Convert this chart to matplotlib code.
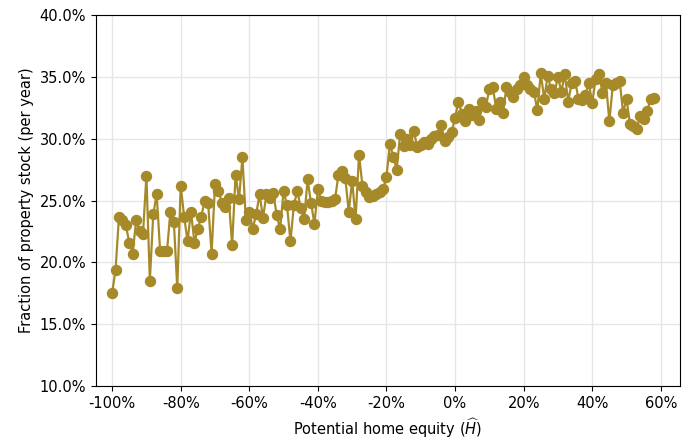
import numpy as np
import matplotlib
matplotlib.use("Agg")
import matplotlib.pyplot as plt
from matplotlib.ticker import FuncFormatter

# potential home equity (in %), one point per percent
equity = list(range(-100, 59))

# fraction of property stock turning over (per year, in %)
fraction = [
    17.5, 19.4, 23.7, 23.4, 23.0, 21.6, 20.7, 23.4, 22.5, 22.3,   # -100 .. -91
    27.0, 18.5, 23.9, 25.5, 20.9, 20.9, 20.9, 24.1, 23.3, 17.9,   # -90 .. -81
    26.2, 23.7, 21.7, 24.1, 21.6, 22.7, 23.7, 25.0, 24.8, 20.7,   # -80 .. -71
    26.3, 25.8, 24.8, 24.5, 25.2, 21.4, 27.1, 25.1, 28.5, 23.4,   # -70 .. -61
    24.1, 22.7, 23.9, 25.5, 23.6, 25.5, 25.2, 25.6, 23.8, 22.7,   # -60 .. -51
    25.8, 24.6, 21.7, 24.6, 25.8, 24.4, 23.5, 26.7, 24.8, 23.1,   # -50 .. -41
    25.9, 25.0, 24.9, 24.9, 25.0, 25.1, 27.1, 27.4, 26.8, 24.1,   # -40 .. -31
    26.6, 23.5, 28.7, 26.2, 25.7, 25.3, 25.4, 25.5, 25.7, 25.9,   # -30 .. -21
    26.9, 29.6, 28.5, 27.5, 30.4, 29.4, 30.0, 29.5, 30.6, 29.3,   # -20 .. -11
    29.5, 29.7, 29.6, 30.0, 30.2, 30.3, 31.1, 29.8, 30.1, 30.5,   # -10 .. -1
    31.7, 33.0, 32.0, 31.4, 32.4, 31.9, 32.2, 31.5, 33.0, 32.6,   # 0 .. 9
    34.0, 34.2, 32.4, 33.0, 32.1, 34.2, 33.8, 33.4, 34.0, 34.3,   # 10 .. 19
    35.0, 34.3, 34.0, 33.8, 32.3, 35.3, 33.2, 35.1, 34.0, 33.7,   # 20 .. 29
    35.0, 33.8, 35.2, 33.0, 34.5, 34.7, 33.2, 33.1, 33.5, 34.5,   # 30 .. 39
    32.9, 34.8, 35.2, 33.7, 34.5, 31.4, 34.3, 34.5, 34.7, 32.1,   # 40 .. 49
    33.2, 31.2, 31.0, 30.8, 31.8, 31.6, 32.2, 33.2, 33.3,         # 50 .. 58
]

x_ticks = [-100, -80, -60, -40, -20, 0, 20, 40, 60]
y_ticks = [10, 15, 20, 25, 30, 35, 40]

plt.rcParams["axes.unicode_minus"] = False

fig = plt.figure(figsize=(6.83, 4.43), dpi=100)
ax = fig.add_axes([96 / 683, 57 / 443, 584 / 683, 371 / 443])

x = np.array(equity) / 100.0
y = np.array(fraction) / 100.0
ax.plot(x, y, color="#a68a29", lw=1.6, marker="o", ms=7.2, zorder=3)

ax.set_xlim(-1.047, 0.656)
ax.set_ylim(0.10, 0.40)
ax.set_xticks(np.array(x_ticks) / 100.0)
ax.set_yticks(np.array(y_ticks) / 100.0)
ax.xaxis.set_major_formatter(FuncFormatter(lambda v, p: f"{v * 100:.0f}%"))
ax.yaxis.set_major_formatter(FuncFormatter(lambda v, p: f"{v * 100:.1f}%"))
ax.tick_params(labelsize=10.5)

ax.grid(True, color="#e6e6e6", lw=1)
ax.set_axisbelow(True)

ax.set_xlabel(r"Potential home equity ($\widehat{H}$)", fontsize=10.5)
ax.set_ylabel("Fraction of property stock (per year)", fontsize=10.5)

fig.savefig("out.png", dpi=100)
